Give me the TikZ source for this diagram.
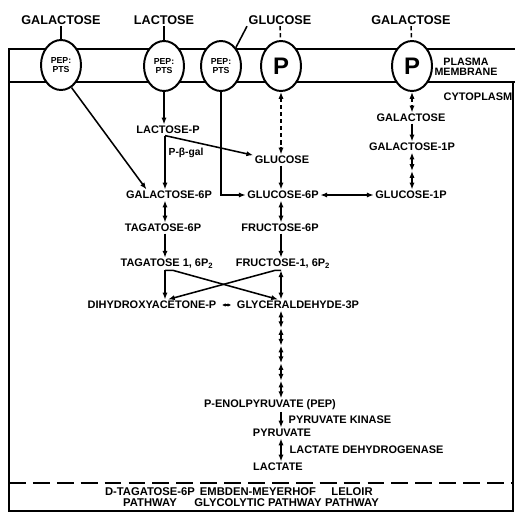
\documentclass[tikz,border=0pt]{standalone}
\usepackage{fontspec}
\setmainfont{Liberation Sans}
\usetikzlibrary{arrows.meta,calc,shapes.geometric}
\definecolor{ink}{HTML}{000000}
\tikzset{
  >={Latex[length=1.7mm,width=1.3mm]},
  every node/.style={text=ink,font=\bfseries\fontsize{7.8}{8}\selectfont,inner sep=1pt},
  toplabel/.style={font=\bfseries\fontsize{9}{10}\selectfont},
  enzyme/.style={anchor=west},
  pathlabel/.style={align=center,font=\bfseries\fontsize{8}{7.8}\selectfont},
  carrier/.style={ellipse,draw=ink,line width=1.4pt,fill=white,minimum width=10mm,minimum height=12.5mm,inner sep=0pt,align=center,font=\bfseries\fontsize{6.2}{6.4}\selectfont},
  permease/.style={carrier,font=\bfseries\fontsize{17}{17}\selectfont},
  membrane/.style={line width=2pt,draw=ink},
  link/.style={line width=1.1pt,draw=ink},
  arrow/.style={->,link},
  revarr/.style={<->,link},
  diffuse/.style={<->,link,dash pattern=on 3pt off 2pt},
  smalltips/.style={<->,line width=0.8pt,draw=ink,shorten <=1mm,shorten >=1mm,>={Latex[length=0.9mm,width=0.9mm]}},
}
\begin{document}
\begin{tikzpicture}[x=0.25mm,y=-0.25mm]
\useasboundingbox (0,0) rectangle (515,512);

% cell envelope
\draw[membrane] (515,49) -- (9,49) -- (9,512);
\draw[membrane] (9,82) -- (515,82);
\draw[line width=1.4pt] (513,82) -- (513,512);
\draw[line width=1.6pt,dash pattern=on 12pt off 5pt] (9,483) -- (513,483);
\draw[line width=1pt] (9,511) -- (513,511);

% outside sugars
\node[toplabel] (galout) at (61,20) {GALACTOSE};
\node[toplabel] (lacout) at (164,20) {LACTOSE};
\node[toplabel] (glcout) at (280,20) {GLUCOSE};
\node[toplabel] (galout2) at (411,20) {GALACTOSE};

% transporters
\node[carrier] (ptsgal) at (61,65) {PEP:\\PTS};
\node[carrier] (ptslac) at (164,66) {PEP:\\PTS};
\node[carrier] (ptsglc) at (221,66) {PEP:\\PTS};
\node[permease] (pglc) at (281,66) {P};
\node[permease] (pgal) at (412,66) {P};

\node[align=center,font=\bfseries\fontsize{7.6}{7.2}\selectfont] (pm) at (466,67) {PLASMA\\MEMBRANE};
\node (cyto) at (478,97) {CYTOPLASM};

% columns
\coordinate (cL) at (165,0);
\coordinate (cM) at (281,0);
\coordinate (cR) at (412,0);

% metabolites
\node (lacp) at (168,130) {LACTOSE-P};
\node[anchor=west,font=\bfseries\fontsize{7.3}{8}\selectfont] (pbgal) at (167,153) {P-β-gal};
\node (glcin) at (282,160) {GLUCOSE};
\node (gal6p) at (169,195) {GALACTOSE-6P};
\node (glc6p) at (283,195) {GLUCOSE-6P};
\node (glc1p) at (411,195) {GLUCOSE-1P};
\node (tag6p) at (163,228) {TAGATOSE-6P};
\node (fru6p) at (280,228) {FRUCTOSE-6P};
\node (tag16) at (167,264) {TAGATOSE 1, 6P\textsubscript{2}};
\node (fru16) at (283,264) {FRUCTOSE-1, 6P\textsubscript{2}};
\node (dhap) at (152,305) {DIHYDROXYACETONE-P};
\node (gap) at (298,305) {GLYCERALDEHYDE-3P};
\node (galin) at (411,118) {GALACTOSE};
\node (gal1p) at (412,147) {GALACTOSE-1P};
\node (pep) at (270,405) {P-ENOLPYRUVATE (PEP)};
\node (pyr) at (282,433) {PYRUVATE};
\node (lact) at (278,467) {LACTATE};
\node[enzyme] (pk) at (287,420) {PYRUVATE KINASE};
\node[enzyme] (ldh) at (288,450) {LACTATE DEHYDROGENASE};

% pathways
\node[pathlabel] (tagpw) at (150,497) {D-TAGATOSE-6P\\PATHWAY};
\node[pathlabel] (empw) at (258,497) {EMBDEN-MEYERHOF\\GLYCOLYTIC PATHWAY};
\node[pathlabel] (lelpw) at (352,497) {LELOIR\\PATHWAY};

% uptake
\draw[link] (galout) -- (ptsgal);
\draw[link] (lacout) -- (ptslac);
\draw[link] (glcout.south west) -- (ptsglc.north east);
\draw[link,dash pattern=on 3pt off 2pt] (glcout) -- (pglc);
\draw[link,dash pattern=on 3pt off 2pt] (galout2) -- (pgal);

\draw[arrow] (ptslac.south) -- (lacp.north -| ptslac.south);
\draw[arrow] (ptsgal.-65) -- ([xshift=5.5mm]gal6p.north west);
\draw[arrow] (lacp.south -| cL) -- (gal6p.north -| cL);
\draw[arrow] (lacp.south -| cL) -- ([yshift=1.2mm]glcin.west);
\draw[arrow] (ptsglc.south) |- (glc6p.west);
\draw[diffuse] (pglc.south) -- (pglc.south |- glcin.north);
\draw[diffuse] (pgal.south) -- (pgal.south |- galin.north);

% tagatose and glycolytic steps
\draw[arrow] (glcin.south -| cM) -- (glc6p.north -| cM);
\draw[revarr] (glc6p.south -| cM) -- (fru6p.north -| cM);
\draw[arrow] (fru6p.south -| cM) -- (fru16.north -| cM);
\draw[revarr] (gal6p.south -| cL) -- (tag6p.north -| cL);
\draw[arrow] (tag6p.south -| cL) -- (tag16.north -| cL);
\draw[revarr] (glc6p) -- (glc1p);

% leloir
\draw[arrow] (galin.south -| cR) -- (gal1p.north -| cR);
\foreach \a/\b in {0/0.5,0.5/1}
  \draw[revarr] ($(gal1p.south -| cR)!\a!(glc1p.north -| cR)$) -- ($(gal1p.south -| cR)!\b!(glc1p.north -| cR)$);

% aldolase cross
\draw[arrow] (tag16.south -| cL) -- (dhap.north -| cL);
\draw[arrow] (tag16.south -| cL) -- ++(8,0) -- ($(gap.north -| cM)+(-3,0)$);
\draw[revarr] (fru16.south -| cM) -- (gap.north -| cM);
\draw[arrow] (fru16.south -| cM) -- ++(-6,0) -- ($(dhap.north -| cL)+(3,0)$);
\draw[smalltips] (dhap) -- (gap);

\foreach \a/\b in {0/0.2,0.2/0.4,0.4/0.6,0.6/0.8,0.8/1}
  \draw[revarr] ($(gap.south -| cM)!\a!(pep.north -| cM)$) -- ($(gap.south -| cM)!\b!(pep.north -| cM)$);
\draw[arrow] (pep.south -| cM) -- (pyr.north -| cM);
\draw[revarr] (pyr.south -| cM) -- (lact.north -| cM);

\end{tikzpicture}
\end{document}
